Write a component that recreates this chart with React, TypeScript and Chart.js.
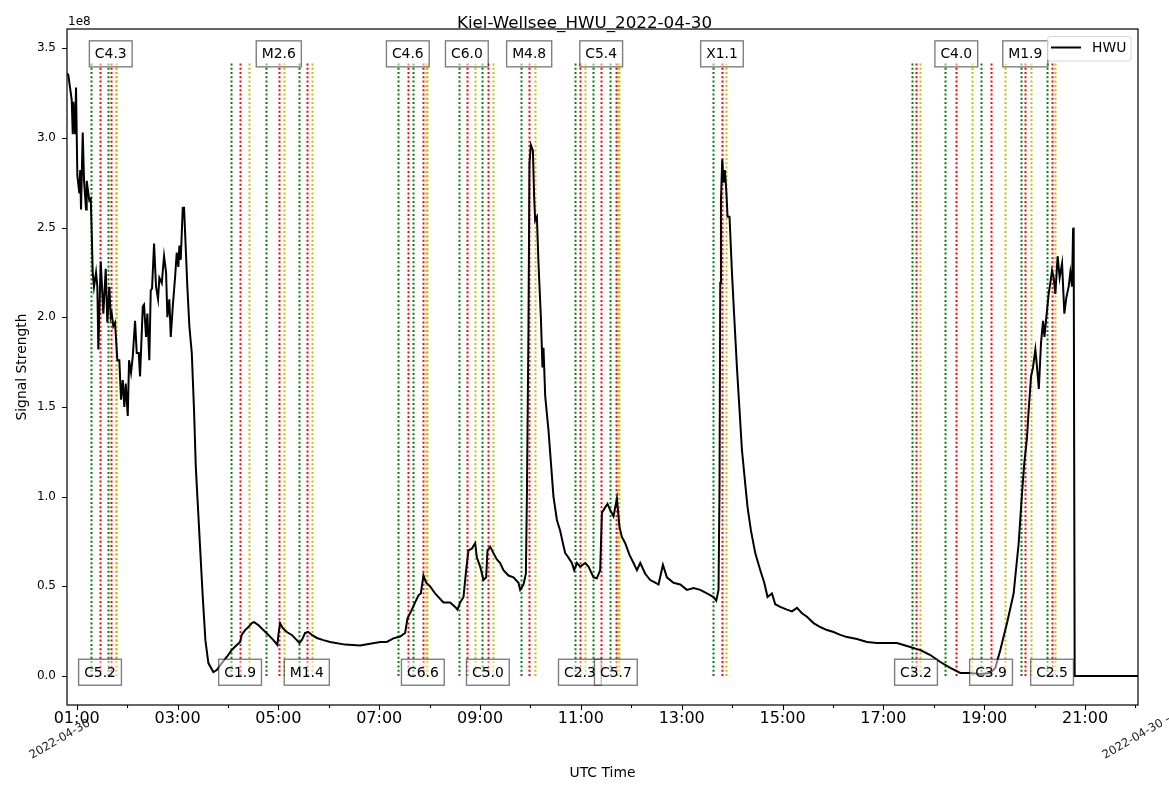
import React, { useEffect, useRef } from "react";
import { Chart, registerables } from "chart.js";

Chart.register(...registerables);

const TITLE = "Kiel-Wellsee_HWU_2022-04-30";
const SERIES_LABEL = "HWU";
const X_LABEL = "UTC Time";
const Y_LABEL = "Signal Strength";
const Y_OFFSET_LABEL = "1e8";
const DATE_LABEL_LEFT = "2022-04-30";
const DATE_LABEL_RIGHT = "2022-04-30 –";

// UTC time in decimal hours
const timeHours = [
  0.802, 0.833, 0.901, 0.921, 0.933, 0.966, 0.986, 1.012, 1.052, 1.069, 1.085, 1.119, 1.145, 1.185, 1.198,
  1.25, 1.278, 1.298, 1.317, 1.343, 1.383, 1.409, 1.429, 1.476, 1.528, 1.575, 1.607, 1.647, 1.675, 1.694,
  1.726, 1.76, 1.806, 1.845, 1.879, 1.913, 1.944, 1.972, 2.012, 2.038, 2.077, 2.111, 2.157, 2.19, 2.23,
  2.256, 2.31, 2.335, 2.375, 2.401, 2.44, 2.468, 2.494, 2.534, 2.573, 2.613, 2.639, 2.687, 2.732, 2.772,
  2.798, 2.837, 2.865, 2.905, 2.95, 2.984, 3.016, 3.036, 3.063, 3.103, 3.129, 3.169, 3.194, 3.234, 3.282,
  3.327, 3.361, 3.393, 3.446, 3.5, 3.552, 3.611, 3.71, 3.778, 3.877, 3.976, 4.075, 4.175, 4.24, 4.274,
  4.339, 4.405, 4.472, 4.518, 4.603, 4.702, 4.802, 4.901, 4.98, 5.0, 5.034, 5.087, 5.167, 5.266, 5.365,
  5.417, 5.464, 5.53, 5.595, 5.663, 5.762, 5.893, 6.026, 6.323, 6.621, 6.819, 7.018, 7.151, 7.282, 7.415,
  7.514, 7.56, 7.647, 7.712, 7.778, 7.825, 7.877, 7.931, 8.01, 8.109, 8.175, 8.274, 8.407, 8.506, 8.552,
  8.605, 8.671, 8.724, 8.77, 8.837, 8.903, 8.937, 9.002, 9.067, 9.121, 9.147, 9.202, 9.266, 9.333, 9.399,
  9.464, 9.563, 9.663, 9.762, 9.796, 9.861, 9.909, 9.929, 9.96, 9.98, 10.008, 10.048, 10.073, 10.093, 10.127,
  10.159, 10.206, 10.238, 10.258, 10.292, 10.357, 10.405, 10.456, 10.524, 10.589, 10.643, 10.689, 10.754, 10.821, 10.867,
  10.921, 10.986, 11.085, 11.151, 11.25, 11.317, 11.383, 11.417, 11.482, 11.528, 11.581, 11.647, 11.714, 11.766, 11.813,
  11.879, 11.964, 12.044, 12.111, 12.177, 12.276, 12.375, 12.474, 12.54, 12.627, 12.706, 12.837, 12.97, 13.103, 13.234,
  13.367, 13.5, 13.631, 13.685, 13.73, 13.75, 13.764, 13.778, 13.804, 13.829, 13.857, 13.883, 13.909, 13.948, 13.996,
  14.042, 14.095, 14.147, 14.194, 14.26, 14.306, 14.373, 14.458, 14.558, 14.637, 14.702, 14.79, 14.855, 14.954, 15.087,
  15.187, 15.286, 15.385, 15.484, 15.615, 15.748, 15.881, 16.012, 16.145, 16.278, 16.476, 16.675, 16.873, 17.071, 17.27,
  17.401, 17.534, 17.667, 17.732, 17.931, 18.129, 18.327, 18.526, 18.724, 18.923, 19.121, 19.22, 19.319, 19.452, 19.583,
  19.683, 19.75, 19.796, 19.849, 19.881, 19.929, 19.968, 20.014, 20.048, 20.083, 20.127, 20.167, 20.194, 20.232, 20.278,
  20.311, 20.345, 20.377, 20.411, 20.456, 20.496, 20.544, 20.589, 20.629, 20.675, 20.708, 20.742, 20.762, 20.774, 20.794,
  22.06,
];

// Signal strength in units of 1e8
const signalStrength = [
  3.36, 3.35, 3.21, 3.02, 3.2, 3.02, 3.28, 2.79, 2.69, 2.82, 2.6, 3.03, 2.76, 2.6, 2.76,
  2.65, 2.66, 2.47, 2.25, 2.17, 2.25, 2.17, 1.82, 2.31, 2.02, 2.27, 1.97, 2.17, 2.0, 2.02,
  1.95, 1.97, 1.76, 1.76, 1.54, 1.65, 1.5, 1.63, 1.45, 1.76, 1.69, 1.78, 1.98, 1.8, 1.8,
  1.67, 2.06, 2.07, 1.89, 2.02, 1.76, 2.15, 2.16, 2.41, 2.17, 2.1, 2.22, 2.19, 2.34, 2.25,
  2.0, 2.1, 1.89, 2.06, 2.22, 2.36, 2.28, 2.4, 2.32, 2.61, 2.61, 2.34, 2.17, 1.95, 1.8,
  1.48, 1.17, 1.0, 0.72, 0.44, 0.2, 0.072, 0.022, 0.033, 0.072, 0.106, 0.145, 0.173, 0.19, 0.23,
  0.256, 0.273, 0.295, 0.3, 0.284, 0.256, 0.229, 0.2, 0.173, 0.229, 0.295, 0.267, 0.245, 0.229, 0.2,
  0.184, 0.2, 0.24, 0.245, 0.229, 0.212, 0.2, 0.19, 0.175, 0.17, 0.18, 0.19, 0.19, 0.21, 0.22,
  0.24, 0.32, 0.37, 0.41, 0.45, 0.46, 0.56, 0.52, 0.5, 0.46, 0.44, 0.41, 0.41, 0.385, 0.37,
  0.41, 0.44, 0.59, 0.7, 0.71, 0.74, 0.66, 0.61, 0.535, 0.55, 0.7, 0.72, 0.685, 0.65, 0.63,
  0.59, 0.56, 0.55, 0.52, 0.48, 0.51, 0.57, 1.0, 1.93, 2.86, 2.96, 2.93, 2.67, 2.54, 2.56,
  2.3, 2.0, 1.72, 1.83, 1.56, 1.37, 1.19, 1.0, 0.87, 0.81, 0.74, 0.685, 0.66, 0.63, 0.59,
  0.63, 0.61, 0.63, 0.61, 0.55, 0.545, 0.59, 0.91, 0.94, 0.96, 0.925, 0.89, 0.99, 0.83, 0.775,
  0.74, 0.675, 0.63, 0.59, 0.63, 0.57, 0.535, 0.52, 0.51, 0.62, 0.55, 0.52, 0.51, 0.48, 0.49,
  0.48, 0.46, 0.44, 0.42, 0.48, 1.07, 2.19, 2.65, 2.88, 2.75, 2.82, 2.71, 2.56, 2.56, 2.25,
  2.0, 1.72, 1.48, 1.26, 1.07, 0.94, 0.81, 0.685, 0.59, 0.52, 0.44, 0.46, 0.4, 0.385, 0.37,
  0.36, 0.38, 0.35, 0.33, 0.295, 0.273, 0.256, 0.245, 0.229, 0.217, 0.206, 0.19, 0.184, 0.184, 0.184,
  0.173, 0.162, 0.15, 0.145, 0.117, 0.078, 0.045, 0.017, 0.017, 0.011, 0.017, 0.045, 0.145, 0.295, 0.46,
  0.74, 1.02, 1.19, 1.33, 1.48, 1.67, 1.72, 1.82, 1.72, 1.6, 1.86, 1.98, 1.89, 2.0, 2.13,
  2.19, 2.26, 2.22, 2.13, 2.34, 2.22, 2.3, 2.02, 2.11, 2.17, 2.25, 2.17, 2.49, 2.5, 0.0,
  0.0,
];

// Flares (decimal hours UTC)
const flareClasses = [
  "C5.2", "C4.3", "C1.9", "M2.6", "M1.4", "C4.6", "C6.6", "C6.0", "C5.0", "M4.8",
  "C2.3", "C5.4", "C5.7", "X1.1", "C3.2", "C4.0", "C3.9", "M1.9", "C2.5",
];
const flareStart = [
  1.278, 1.621, 4.056, 4.75, 5.405, 7.369, 7.667, 8.591, 9.036, 9.81,
  10.887, 11.238, 11.581, 13.619, 17.573, 18.222, 18.937, 19.73, 20.246,
];
const flarePeak = [
  1.462, 1.675, 4.24, 5.008, 5.563, 7.567, 7.865, 8.738, 9.155, 9.974,
  10.98, 11.403, 11.694, 13.798, 17.647, 18.446, 19.135, 19.815, 20.345,
];
const flareEnd = [
  1.77, 1.78, 4.413, 5.107, 5.663, 7.934, 7.944, 8.903, 9.254, 10.087,
  11.079, 11.74, 11.754, 13.877, 17.726, 18.764, 19.419, 19.929, 20.405,
];

const X_TICK_HOURS = [1, 3, 5, 7, 9, 11, 13, 15, 17, 19, 21];
const X_TICK_LABELS = ["01:00", "03:00", "05:00", "07:00", "09:00", "11:00", "13:00", "15:00", "17:00", "19:00", "21:00"];
const X_MINOR_HOURS = [2, 4, 6, 8, 10, 12, 14, 16, 18, 20, 22];
const Y_TICKS = [0, 0.5, 1.0, 1.5, 2.0, 2.5, 3.0, 3.5];

const X_MIN = 0.807;
const X_MAX = 22.05;
const Y_MIN = -0.1616;
const Y_MAX = 3.6065;
const VLINE_TOP = 3.428;
const LABEL_TOP_Y = 3.468;
const LABEL_BOTTOM_Y = 0.021;

const FONT = '"DejaVu Sans", sans-serif';
const W = 1169;
const H = 792;

const overlayPlugin = {
  id: "overlay",
  beforeDatasetsDraw(chart: any) {
    const { ctx, chartArea, scales } = chart;
    const x = scales.x;
    const y = scales.y;
    ctx.save();
    ctx.beginPath();
    ctx.rect(chartArea.left, chartArea.top, chartArea.right - chartArea.left, chartArea.bottom - chartArea.top);
    ctx.clip();
    ctx.lineWidth = 2;
    ctx.setLineDash([2, 2.3]);
    const y0 = y.getPixelForValue(0);
    const y1 = y.getPixelForValue(VLINE_TOP);
    for (let i = 0; i < flareClasses.length; i++) {
      const items: [number, string][] = [
        [flareStart[i], "#008000"],
        [flarePeak[i], "#ff0000"],
        [flareEnd[i], "#bfbf00"],
      ];
      for (const [t, c] of items) {
        const px = Math.round(x.getPixelForValue(t)) + 0.5;
        ctx.strokeStyle = c;
        ctx.beginPath();
        ctx.moveTo(px, y0);
        ctx.lineTo(px, y1);
        ctx.stroke();
      }
    }
    ctx.restore();
  },
  afterDatasetsDraw(chart: any) {
    const { ctx, chartArea, scales } = chart;
    const x = scales.x;
    const y = scales.y;
    const { left, right, top, bottom } = chartArea;

    // flare label boxes
    ctx.save();
    ctx.font = `13.9px ${FONT}`;
    ctx.textAlign = "center";
    ctx.textBaseline = "middle";
    for (let i = 0; i < flareClasses.length; i++) {
      const cx = x.getPixelForValue(flarePeak[i]);
      const cy = y.getPixelForValue(i % 2 === 0 ? LABEL_BOTTOM_Y : LABEL_TOP_Y);
      const tw = ctx.measureText(flareClasses[i]).width;
      const bw = tw + 11;
      const bh = 26;
      ctx.fillStyle = "rgba(255,255,255,0.5)";
      ctx.fillRect(cx - bw / 2, cy - bh / 2, bw, bh);
      ctx.strokeStyle = "rgba(0,0,0,0.5)";
      ctx.lineWidth = 1.4;
      ctx.strokeRect(cx - bw / 2, cy - bh / 2, bw, bh);
      ctx.fillStyle = "#000";
      ctx.fillText(flareClasses[i], cx, cy + 1);
    }
    ctx.restore();

    // frame
    ctx.save();
    ctx.strokeStyle = "#000";
    ctx.lineWidth = 1.2;
    ctx.strokeRect(left, top, right - left, bottom - top);

    // ticks
    ctx.lineWidth = 1.1;
    ctx.beginPath();
    for (const v of Y_TICKS) {
      const py = Math.round(y.getPixelForValue(v)) + 0.5;
      ctx.moveTo(left - 5, py);
      ctx.lineTo(left, py);
    }
    for (const h of X_TICK_HOURS) {
      const px = Math.round(x.getPixelForValue(h)) + 0.5;
      ctx.moveTo(px, bottom);
      ctx.lineTo(px, bottom + 5);
    }
    for (const h of X_MINOR_HOURS) {
      if (h > X_MAX + 0.01) continue;
      const px = Math.min(Math.round(x.getPixelForValue(h)) + 0.5, right);
      ctx.moveTo(px, bottom);
      ctx.lineTo(px, bottom + 3);
    }
    ctx.stroke();

    // texts
    ctx.fillStyle = "#000";
    ctx.font = `16.7px ${FONT}`;
    ctx.textAlign = "center";
    ctx.textBaseline = "alphabetic";
    ctx.fillText(TITLE, W / 2, 28);

    ctx.font = `13.9px ${FONT}`;
    ctx.fillText(X_LABEL, (left + right) / 2, 777);

    ctx.save();
    ctx.translate(25.5, (top + bottom) / 2);
    ctx.rotate(-Math.PI / 2);
    ctx.fillText(Y_LABEL, 0, 0);
    ctx.restore();

    ctx.font = `12px ${FONT}`;
    ctx.textAlign = "left";
    ctx.fillText(Y_OFFSET_LABEL, left + 1, 25);

    ctx.fillStyle = "#222";
    ctx.font = `11.7px ${FONT}`;
    ctx.save();
    ctx.translate(32, 759);
    ctx.rotate(-Math.PI / 6);
    ctx.fillText(DATE_LABEL_LEFT, 0, 0);
    ctx.restore();
    ctx.save();
    ctx.translate(1105, 759);
    ctx.rotate(-Math.PI / 6);
    ctx.fillText(DATE_LABEL_RIGHT, 0, 0);
    ctx.restore();

    // legend
    const lx = 1047.5, ly = 36.5, lw = 83.5, lh = 24.5;
    ctx.fillStyle = "rgba(255,255,255,0.8)";
    ctx.strokeStyle = "rgba(204,204,204,0.8)";
    ctx.lineWidth = 1;
    ctx.beginPath();
    (ctx as any).roundRect(lx, ly, lw, lh, 3);
    ctx.fill();
    ctx.stroke();
    ctx.strokeStyle = "#000";
    ctx.lineWidth = 2;
    ctx.beginPath();
    ctx.moveTo(1051, 47.5);
    ctx.lineTo(1081, 47.5);
    ctx.stroke();
    ctx.fillStyle = "#000";
    ctx.font = `13.9px ${FONT}`;
    ctx.textAlign = "left";
    ctx.textBaseline = "middle";
    ctx.fillText(SERIES_LABEL, 1092, 48);
    ctx.restore();
  },
};

export default function App() {
  const canvasRef = useRef<HTMLCanvasElement | null>(null);

  useEffect(() => {
    const canvas = canvasRef.current;
    if (!canvas) return;
    Chart.defaults.font.family = FONT;
    const data = timeHours.map((t, i) => ({ x: t, y: signalStrength[i] }));
    const chart = new Chart(canvas, {
      type: "line",
      data: {
        datasets: [
          {
            label: SERIES_LABEL,
            data,
            borderColor: "#000",
            borderWidth: 2,
            pointRadius: 0,
            fill: false,
            tension: 0,
          },
        ],
      },
      options: {
        animation: false,
        responsive: false,
        devicePixelRatio: 1,
        parsing: false,
        layout: { padding: { left: 0, top: 29, right: W - 1138, bottom: 0 } },
        plugins: {
          legend: { display: false },
          tooltip: { enabled: false },
          title: { display: false },
        },
        scales: {
          x: {
            type: "linear",
            min: X_MIN,
            max: X_MAX,
            grid: { display: false, drawTicks: false },
            border: { display: false },
            afterBuildTicks: (scale: any) => {
              scale.ticks = X_TICK_HOURS.map((v) => ({ value: v }));
            },
            afterFit: (scale: any) => {
              scale.height = H - 705;
            },
            ticks: {
              autoSkip: false,
              maxRotation: 0,
              minRotation: 0,
              padding: 4,
              color: "#000",
              font: { size: 16, family: FONT },
              callback: (value: any) => {
                const idx = X_TICK_HOURS.indexOf(Number(value));
                return idx >= 0 ? X_TICK_LABELS[idx] : "";
              },
            },
          },
          y: {
            type: "linear",
            min: Y_MIN,
            max: Y_MAX,
            grid: { display: false, drawTicks: false },
            border: { display: false },
            afterBuildTicks: (scale: any) => {
              scale.ticks = Y_TICKS.map((v) => ({ value: v }));
            },
            afterFit: (scale: any) => {
              scale.width = 67;
            },
            ticks: {
              autoSkip: false,
              padding: 11,
              color: "#000",
              font: { size: 12, family: FONT },
              callback: (value: any) => Number(value).toFixed(1),
            },
          },
        },
      },
      plugins: [overlayPlugin],
    });
    return () => chart.destroy();
  }, []);

  return (
    <div style={{ position: "fixed", left: 0, top: 0, width: W, height: H, background: "#fff" }}>
      <canvas ref={canvasRef} width={W} height={H} style={{ width: W, height: H, display: "block" }} />
    </div>
  );
}
